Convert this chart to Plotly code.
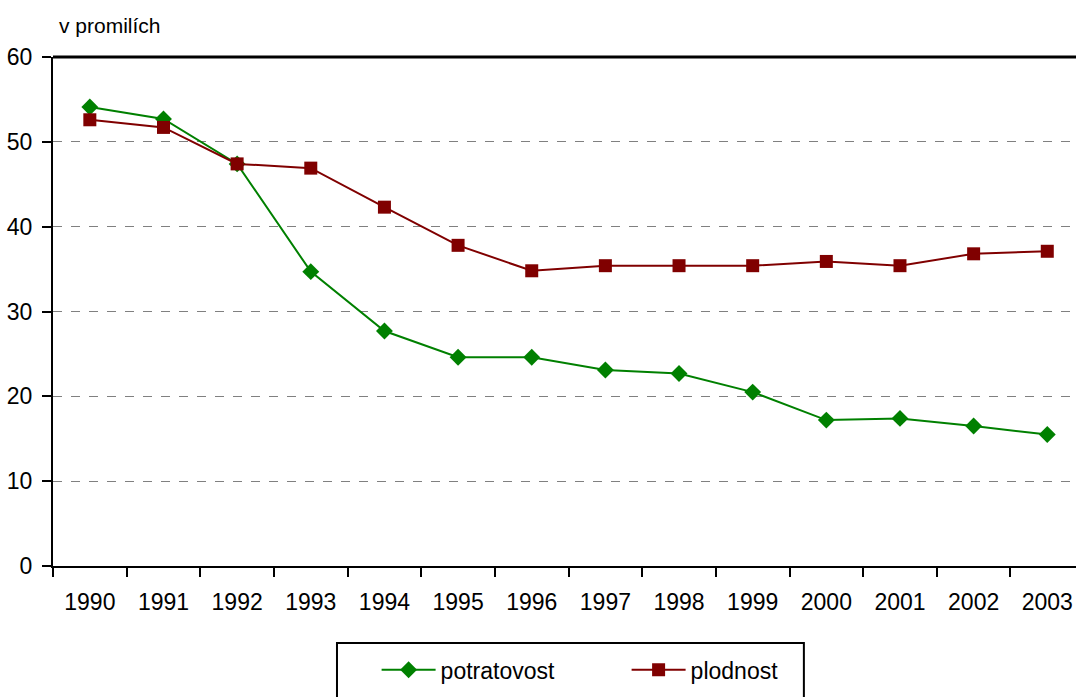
import plotly.graph_objects as go

# data
years = [str(y) for y in range(1990, 2004)]
potratovost = [54.1, 52.7, 47.4, 34.7, 27.7, 24.6, 24.6, 23.1, 22.7, 20.5, 17.2, 17.4, 16.5, 15.5]
plodnost = [52.6, 51.7, 47.4, 46.9, 42.3, 37.8, 34.8, 35.4, 35.4, 35.4, 35.9, 35.4, 36.8, 37.1]

FONT = "Liberation Sans, Arial, sans-serif"

fig = go.Figure()
fig.add_trace(go.Scatter(x=years, y=potratovost, name="potratovost", mode="lines+markers",
                         line=dict(color="#008000", width=2),
                         marker=dict(symbol="diamond", size=13, color="#008000")))
fig.add_trace(go.Scatter(x=years, y=plodnost, name="plodnost", mode="lines+markers",
                         line=dict(color="#800000", width=2),
                         marker=dict(symbol="square", size=13, color="#800000")))

fig.update_layout(
    width=1076, height=697,
    margin=dict(l=53, r=0, t=57, b=131, autoexpand=False),
    paper_bgcolor="white", plot_bgcolor="white",
    font=dict(family=FONT, size=23, color="black"),
    showlegend=True,
    legend=dict(orientation="h", xref="container", yref="container",
                x=0.35, y=0.039, xanchor="left", yanchor="middle",
                borderwidth=0, bgcolor="rgba(0,0,0,0)", entrywidth=181, itemwidth=54,
                font=dict(size=23)),
)
fig.update_xaxes(type="category", range=[-0.5, 13.39], showline=True, linecolor="black", linewidth=2,
                 ticks="outside", tickson="boundaries", ticklen=9, tickwidth=2, tickcolor="black",
                 ticklabelstandoff=14, showgrid=False, automargin=False)
fig.update_yaxes(range=[0, 60], dtick=10, showline=True, linecolor="black", linewidth=2,
                 ticks="outside", ticklen=9, tickwidth=2, tickcolor="black",
                 ticklabelstandoff=5,
                 showgrid=True, gridcolor="#808080", gridwidth=1, griddash="dash",
                 zeroline=False, automargin=False)

# top border of the plot area
fig.add_shape(type="line", xref="paper", yref="paper", x0=0, x1=1, y0=1, y1=1,
              line=dict(color="black", width=3))
# legend frame
fig.add_shape(type="rect", xref="paper", yref="paper", x0=0.2776, x1=0.734, y0=-0.1513, y1=-0.27,
              line=dict(color="black", width=2))

fig.add_annotation(text="v promilích", xref="paper", yref="paper", x=0.004, y=1.0,
                   xanchor="left", yanchor="bottom", yshift=18, showarrow=False,
                   font=dict(size=21))

# the page body has a default 8px margin; drop it so the figure sits at the window corner
fig.write_html("out.html", config={"displayModeBar": False},
               post_script="document.body.style.margin='0';")
